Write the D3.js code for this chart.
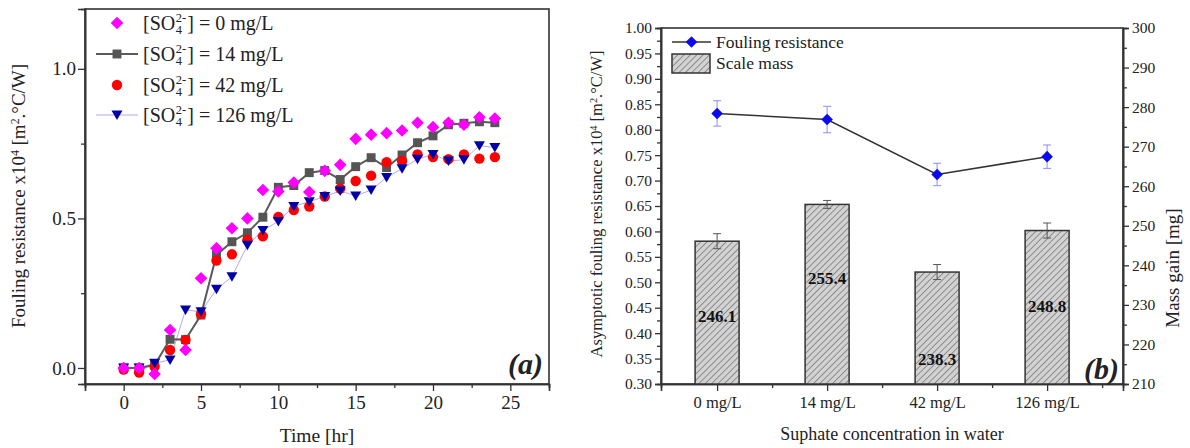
<!DOCTYPE html>
<html>
<head>
<meta charset="utf-8">
<script src="https://cdn.jsdelivr.net/npm/d3@7"></script>
<style>
  body { margin: 0; background: #fff; }
  svg text { font-family: "Liberation Serif", "Times New Roman", serif; fill: #222; }
  .axis path, .axis line { stroke: #333; }
</style>
</head>
<body>
<svg id="chart" width="1190" height="448"></svg>
<script>
// ---- panel (a): fouling resistance vs time
var times = [0, 1, 2, 3, 4, 5, 6, 7, 8, 9, 10, 11, 12, 13, 14, 15, 16, 17, 18, 19, 20, 21, 22, 23, 24];
var r0   = [0.00, 0.00, -0.02, 0.127, 0.06, 0.30, 0.40, 0.467, 0.50, 0.595, 0.59, 0.62, 0.588, 0.659, 0.679, 0.766, 0.78, 0.785, 0.794, 0.82, 0.805, 0.82, 0.813, 0.838, 0.834];
var r14  = [0.00, 0.00, 0.01, 0.096, 0.095, 0.177, 0.378, 0.422, 0.452, 0.504, 0.604, 0.61, 0.653, 0.66, 0.63, 0.673, 0.703, 0.67, 0.712, 0.753, 0.776, 0.813, 0.818, 0.823, 0.82];
var r42  = [-0.005, -0.015, 0.005, 0.06, 0.094, 0.18, 0.359, 0.38, 0.428, 0.44, 0.505, 0.528, 0.54, 0.573, 0.60, 0.625, 0.643, 0.688, 0.692, 0.714, 0.705, 0.698, 0.714, 0.70, 0.705];
var r126 = [0.00, 0.00, 0.016, 0.027, 0.194, 0.188, 0.263, 0.305, 0.41, 0.46, 0.49, 0.54, 0.556, 0.573, 0.592, 0.575, 0.595, 0.637, 0.666, 0.698, 0.714, 0.692, 0.696, 0.743, 0.737];
var seriesLabels = ["0 mg/L", "14 mg/L", "42 mg/L", "126 mg/L"];
var xTicksA = [0, 5, 10, 15, 20, 25];
var yTicksA = [0.0, 0.5, 1.0];

// ---- panel (b): asymptotic resistance and scale mass
var categories = ["0 mg/L", "14 mg/L", "42 mg/L", "126 mg/L"];
var resistance = [0.832, 0.820, 0.712, 0.747];
var resistanceErr = [0.025, 0.026, 0.022, 0.023];
var mass = [246.1, 255.4, 238.3, 248.8];
var massErr = [1.9, 1.0, 1.9, 1.9];
var massLabelAt = [227.2, 236.8, 216.3, 229.7]; // where the bold value labels sit (mg axis)

var FONT = "Liberation Serif, Times New Roman, serif";
var svg = d3.select("#chart");

function supText(sel, parts) {
    parts.forEach(function (p) {
	var t = sel.append("tspan").text(p[0]);
	if (p[1] === "sup") t.attr("font-size", "0.62em").attr("baseline-shift", "super");
    });
}
function styleAxis(g, size) {
    g.attr("font-family", FONT);
    g.selectAll("path").attr("stroke-width", 1.6);
    g.selectAll("line").attr("stroke-width", 1.3);
    g.selectAll("text").attr("font-size", size).attr("fill", "#222").attr("font-family", FONT);
}
function diamond(r) { return "M0," + (-r) + "L" + r + ",0L0," + r + "L" + (-r) + ",0Z"; }

// ================= panel (a)
var xa = d3.scaleLinear().domain([-2.5, 27.5]).range([85, 549]);
var ya = d3.scaleLinear().domain([-0.0535, 1.2]).range([384, 9]);

var ga = svg.append("g");

ga.append("g").attr("class", "axis").attr("transform", "translate(0,384)")
    .call(d3.axisBottom(xa).tickValues([-2.5, 2.5, 7.5, 12.5, 17.5, 22.5, 27.5]).tickSize(4).tickFormat(""))
    .call(styleAxis, 19);
ga.append("g").attr("class", "axis").attr("transform", "translate(0,384)")
    .call(d3.axisBottom(xa).tickValues(xTicksA).tickSize(7).tickPadding(5).tickFormat(d3.format("d")))
    .call(styleAxis, 19);
ga.append("g").attr("class", "axis").attr("transform", "translate(85,0)")
    .call(d3.axisLeft(ya).tickValues([0.25, 0.75]).tickSize(4).tickFormat(""))
    .call(styleAxis, 19);
ga.append("g").attr("class", "axis").attr("transform", "translate(85,0)")
    .call(d3.axisLeft(ya).tickValues(yTicksA).tickSize(7).tickPadding(2).tickFormat(d3.format(".1f")))
    .call(styleAxis, 19);

ga.append("rect").attr("x", 85).attr("y", 9).attr("width", 464).attr("height", 375)
    .attr("fill", "none").attr("stroke", "#333").attr("stroke-width", 1.6);

var lineA = d3.line().x(function (d, i) { return xa(times[i]); }).y(function (d) { return ya(d); });

ga.append("path").datum(r126).attr("d", lineA)
    .attr("fill", "none").attr("stroke", "#b8a8f0").attr("stroke-width", 1);
ga.append("path").datum(r14).attr("d", lineA)
    .attr("fill", "none").attr("stroke", "#5a5a5a").attr("stroke-width", 2);

var symSquare = d3.symbol().type(d3.symbolSquare).size(80);
var symCircle = d3.symbol().type(d3.symbolCircle).size(85);
var symDiamond = diamond(6.3);
var triDown = "M-5.5,-4.5L5.5,-4.5L0,5z";

function markers(data, path, fill) {
    ga.append("g").selectAll("path").data(data).enter().append("path")
	.attr("d", path)
	.attr("fill", fill)
	.attr("transform", function (d, i) { return "translate(" + xa(times[i]) + "," + ya(d) + ")"; });
}
markers(r14, symSquare, "#555555");
markers(r42, symCircle, "#ff0000");
markers(r126, triDown, "#0000a8");
markers(r0, symDiamond, "#ff00ff");

// legend (a)
var legA = ga.append("g");
var legY = [23, 54, 85, 115];
var legSym = [
    {path: symDiamond, fill: "#ff00ff", line: null},
    {path: symSquare, fill: "#555555", line: {c: "#5a5a5a", w: 2}},
    {path: symCircle, fill: "#ff0000", line: null},
    {path: triDown, fill: "#0000a8", line: {c: "#b8a8f0", w: 1}}
];
seriesLabels.forEach(function (lab, i) {
    var y = legY[i], s = legSym[i];
    if (s.line) legA.append("line").attr("x1", 96).attr("x2", 138).attr("y1", y).attr("y2", y)
	.attr("stroke", s.line.c).attr("stroke-width", s.line.w);
    legA.append("path").attr("d", s.path).attr("fill", s.fill)
	.attr("transform", "translate(117," + y + ")");
    var t1 = legA.append("text").attr("x", 143).attr("y", y + 7).attr("font-size", 20).text("[SO");
    var w = t1.node().getComputedTextLength();
    legA.append("text").attr("x", 143 + w + 0.5).attr("y", y - 1).attr("font-size", 12.5).text("2-");
    legA.append("text").attr("x", 143 + w + 0.5).attr("y", y + 11).attr("font-size", 12.5).text("4");
    legA.append("text").attr("x", 143 + w + 12).attr("y", y + 7).attr("font-size", 20)
	.text("] = " + lab);
});

// titles (a)
var ta = ga.append("text").attr("transform", "translate(25,196) rotate(-90)")
    .attr("text-anchor", "middle").attr("font-size", 19);
supText(ta, [["Fouling resistance x10"], ["4", "sup"], [" [m"], ["2", "sup"], [".°C/W]"]]);
ga.append("text").attr("x", 317).attr("y", 442).attr("text-anchor", "middle")
    .attr("font-size", 19.5).text("Time [hr]");
ga.append("text").attr("x", 543).attr("y", 374).attr("text-anchor", "end")
    .attr("font-size", 30).attr("font-weight", "bold").attr("font-style", "italic").text("(a)");

// ================= panel (b)
var xb = d3.scaleLinear().domain([-0.51, 3.69]).range([661, 1123]);
var yb = d3.scaleLinear().domain([0.30, 1.00]).range([384, 28]);
var yb2 = d3.scaleLinear().domain([210, 300]).range([384, 28]);

var gb = svg.append("g");

var defs = svg.append("defs");
var pat = defs.append("pattern").attr("id", "hatch").attr("patternUnits", "userSpaceOnUse")
    .attr("width", 4.5).attr("height", 4.5).attr("patternTransform", "rotate(45)");
pat.append("rect").attr("width", 4.5).attr("height", 4.5).attr("fill", "#d2d2d2");
pat.append("line").attr("x1", 0).attr("y1", 0).attr("x2", 0).attr("y2", 4.5)
    .attr("stroke", "#555").attr("stroke-width", 1.1);

var ytb = [0.30, 0.35, 0.40, 0.45, 0.50, 0.55, 0.60, 0.65, 0.70, 0.75, 0.80, 0.85, 0.90, 0.95, 1.00];
var ytbMinor = ytb.slice(0, -1).map(function (d) { return d + 0.025; });
var y2t = [210, 220, 230, 240, 250, 260, 270, 280, 290, 300];
var y2tMinor = y2t.slice(0, -1).map(function (d) { return d + 5; });

gb.append("g").attr("class", "axis").attr("transform", "translate(661,0)")
    .call(d3.axisLeft(yb).tickValues(ytbMinor).tickSize(4).tickFormat(""))
    .call(styleAxis, 15.5);
gb.append("g").attr("class", "axis").attr("transform", "translate(661,0)")
    .call(d3.axisLeft(yb).tickValues(ytb).tickSize(6).tickPadding(3).tickFormat(d3.format(".2f")))
    .call(styleAxis, 15.5);
gb.append("g").attr("class", "axis").attr("transform", "translate(1123,0)")
    .call(d3.axisRight(yb2).tickValues(y2tMinor).tickSize(4).tickFormat(""))
    .call(styleAxis, 15.5);
gb.append("g").attr("class", "axis").attr("transform", "translate(1123,0)")
    .call(d3.axisRight(yb2).tickValues(y2t).tickSize(6).tickPadding(3).tickFormat(d3.format("d")))
    .call(styleAxis, 15.5);
gb.append("g").attr("class", "axis").attr("transform", "translate(0,384)")
    .call(d3.axisBottom(xb).tickValues([0.5, 1.5, 2.5, 3.5]).tickSize(4).tickFormat(""))
    .call(styleAxis, 16);
gb.append("g").attr("class", "axis").attr("transform", "translate(0,384)")
    .call(d3.axisBottom(xb).tickValues([0, 1, 2, 3]).tickSize(7).tickPadding(5)
	  .tickFormat(function (d) { return categories[d]; }))
    .call(styleAxis, 16.5);
gb.append("rect").attr("x", 661).attr("y", 28).attr("width", 462).attr("height", 356)
    .attr("fill", "none").attr("stroke", "#333").attr("stroke-width", 1.6);

// bars
var barW = 44;
gb.append("g").selectAll("rect").data(mass).enter().append("rect")
    .attr("x", function (d, i) { return xb(i) - barW / 2; })
    .attr("y", function (d) { return yb2(d); })
    .attr("width", barW)
    .attr("height", function (d) { return 384 - yb2(d); })
    .attr("fill", "url(#hatch)").attr("stroke", "#333").attr("stroke-width", 1.5);

var eb = gb.append("g").attr("stroke", "#555").attr("stroke-width", 1);
mass.forEach(function (m, i) {
    var x = xb(i), t = yb2(m + massErr[i]), b = yb2(m - massErr[i]);
    eb.append("line").attr("x1", x).attr("x2", x).attr("y1", t).attr("y2", b);
    eb.append("line").attr("x1", x - 4).attr("x2", x + 4).attr("y1", t).attr("y2", t);
    eb.append("line").attr("x1", x - 4).attr("x2", x + 4).attr("y1", b).attr("y2", b);
});

gb.append("g").selectAll("text").data(mass).enter().append("text")
    .attr("x", function (d, i) { return xb(i); })
    .attr("y", function (d, i) { return yb2(massLabelAt[i]) + 6; })
    .attr("text-anchor", "middle").attr("font-size", 17).attr("font-weight", "bold")
    .style("fill", "#111").text(function (d) { return d3.format(".1f")(d); });

// resistance line
var er = gb.append("g").attr("stroke", "#8c8cff").attr("stroke-width", 1);
resistance.forEach(function (r, i) {
    var x = xb(i), t = yb(r + resistanceErr[i]), b = yb(r - resistanceErr[i]);
    er.append("line").attr("x1", x).attr("x2", x).attr("y1", t).attr("y2", b);
    er.append("line").attr("x1", x - 4).attr("x2", x + 4).attr("y1", t).attr("y2", t);
    er.append("line").attr("x1", x - 4).attr("x2", x + 4).attr("y1", b).attr("y2", b);
});
gb.append("path").datum(resistance)
    .attr("d", d3.line().x(function (d, i) { return xb(i); }).y(function (d) { return yb(d); }))
    .attr("fill", "none").attr("stroke", "#333").attr("stroke-width", 1.5);
var symDiamondB = diamond(5.8);
gb.append("g").selectAll("path").data(resistance).enter().append("path")
    .attr("d", symDiamondB).attr("fill", "#0a0aee")
    .attr("transform", function (d, i) { return "translate(" + xb(i) + "," + yb(d) + ")"; });

// legend (b)
gb.append("line").attr("x1", 672).attr("x2", 711).attr("y1", 42).attr("y2", 42)
    .attr("stroke", "#333").attr("stroke-width", 1.5);
gb.append("path").attr("d", symDiamondB).attr("fill", "#0a0aee").attr("transform", "translate(691.5,42)");
gb.append("text").attr("x", 716).attr("y", 48).attr("font-size", 17.5).text("Fouling resistance");
gb.append("rect").attr("x", 672).attr("y", 54).attr("width", 38).attr("height", 19)
    .attr("fill", "url(#hatch)").attr("stroke", "#333").attr("stroke-width", 1.5);
gb.append("text").attr("x", 716).attr("y", 69).attr("font-size", 17.5).text("Scale mass");

// titles (b)
var tb = gb.append("text").attr("transform", "translate(602,204) rotate(-90)")
    .attr("text-anchor", "middle").attr("font-size", 16.5);
supText(tb, [["Asymptotic fouling resistance x10"], ["4", "sup"], [" [m"], ["2", "sup"], [".°C/W]"]]);
gb.append("text").attr("transform", "translate(1179,268) rotate(-90)")
    .attr("text-anchor", "middle").attr("font-size", 19).text("Mass gain [mg]");
gb.append("text").attr("x", 892).attr("y", 440).attr("text-anchor", "middle")
    .attr("font-size", 18).text("Suphate concentration in water");
gb.append("text").attr("x", 1119).attr("y", 379).attr("text-anchor", "end")
    .attr("font-size", 30).attr("font-weight", "bold").attr("font-style", "italic").text("(b)");
</script>
</body>
</html>
